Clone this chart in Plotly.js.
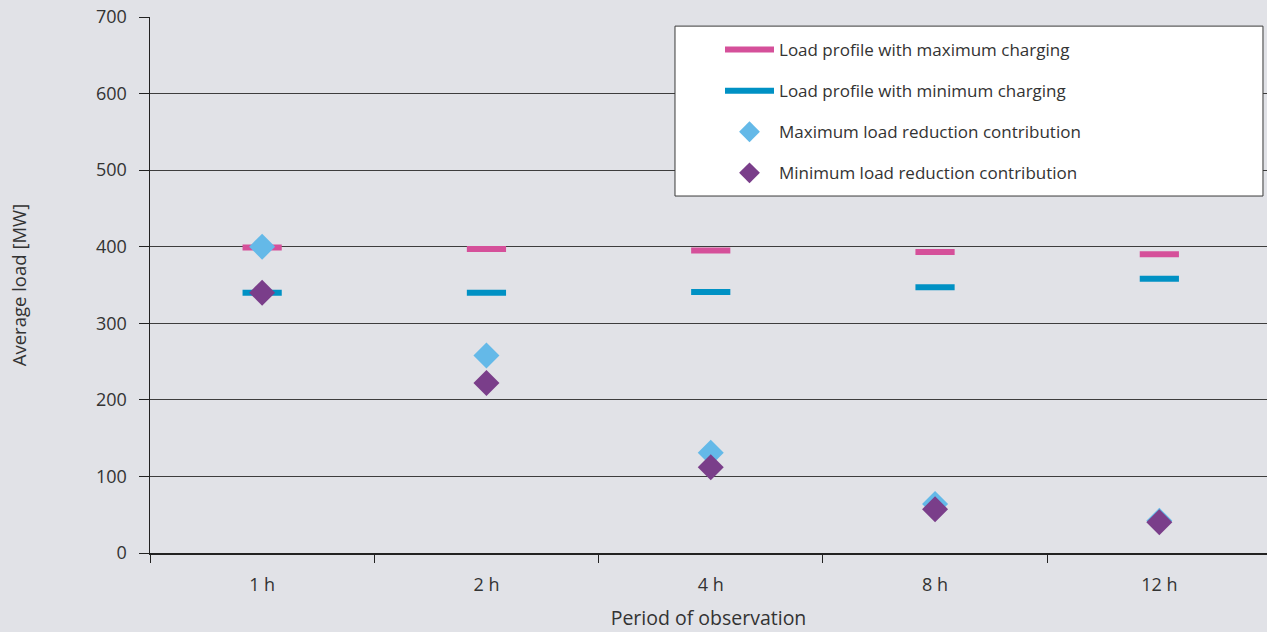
<!DOCTYPE html>
<html>
<head>
<meta charset="utf-8">
<script src="https://cdn.plot.ly/plotly-3.0.1.min.js"></script>
<style>html,body{margin:0;padding:0;background:#e1e2e7;}#chart{width:1267px;height:632px;}</style>
</head>
<body>
<div id="chart"></div>
<script>
const categories = ['1 h', '2 h', '4 h', '8 h', '12 h'];
const maxCharging = [399, 397, 395, 393, 390];
const minCharging = [340, 340, 341, 347, 358];
const maxReduction = [400, 258, 131, 64, 42];
const minReduction = [340, 222, 112, 57, 40];
const yTicks = [0, 100, 200, 300, 400, 500, 600, 700];

const names = [
  'Load profile with maximum charging',
  'Load profile with minimum charging',
  'Maximum load reduction contribution',
  'Minimum load reduction contribution'
];
const colors = ['#d5509a', '#0091c4', '#64b9e8', '#7a3e8a'];

const traces = [
  // legend entries for the bar-like markers
  {x: [null], y: [null], type: 'scatter', mode: 'lines', name: names[0], legendgroup: 'a',
   line: {color: colors[0], width: 6}, hoverinfo: 'skip'},
  {x: [null], y: [null], type: 'scatter', mode: 'lines', name: names[1], legendgroup: 'b',
   line: {color: colors[1], width: 6}, hoverinfo: 'skip'},
  {x: categories, y: maxCharging, type: 'scatter', mode: 'markers', showlegend: false, legendgroup: 'a',
   marker: {symbol: 'line-ew', size: 28, line: {color: colors[0], width: 6}}},
  {x: categories, y: minCharging, type: 'scatter', mode: 'markers', showlegend: false, legendgroup: 'b',
   marker: {symbol: 'line-ew', size: 28, line: {color: colors[1], width: 6}}},
  {x: categories, y: maxReduction, type: 'scatter', mode: 'markers', name: names[2], legendgroup: 'c',
   marker: {symbol: 'diamond', size: 20, color: colors[2], line: {width: 0}}},
  {x: categories, y: minReduction, type: 'scatter', mode: 'markers', name: names[3], legendgroup: 'd',
   marker: {symbol: 'diamond', size: 20, color: colors[3], line: {width: 0}}}
];

const font = {family: '"Open Sans", sans-serif', color: '#333333'};

const layout = {
  width: 1267, height: 632,
  paper_bgcolor: '#e1e2e7', plot_bgcolor: '#e1e2e7',
  margin: {l: 150, r: 0, t: 17, b: 79},
  font: Object.assign({size: 18}, font),
  showlegend: true,
  legend: {
    x: 0.5103, y: 0.972, xanchor: 'left', yanchor: 'top',
    bgcolor: 'rgba(0,0,0,0)', borderwidth: 0,
    traceorder: 'grouped', tracegroupgap: 16, itemwidth: 49,
    font: Object.assign({size: 17}, font)
  },
  shapes: [{
    type: 'rect', xref: 'paper', yref: 'paper',
    x0: 0.470, x1: 0.9964, y0: 0.666, y1: 0.983,
    fillcolor: '#ffffff', line: {color: '#3a3a3a', width: 1}, layer: 'above'
  }],
  xaxis: {
    type: 'category', range: [-0.5, 4.48],
    showgrid: false, zeroline: false,
    showline: true, linecolor: '#222222', linewidth: 1.5,
    ticks: 'outside', tickson: 'boundaries', ticklen: 8, tickcolor: '#222222',
    ticklabelstandoff: 15,
    tickfont: Object.assign({size: 18}, font),
    title: {text: 'Period of observation', font: Object.assign({size: 19.5}, font), standoff: 16},
    automargin: false
  },
  yaxis: {
    range: [0, 700], tickvals: yTicks, ticktext: yTicks.map(String),
    showgrid: true, gridcolor: '#3d3d3d', gridwidth: 1,
    zeroline: false,
    showline: true, linecolor: '#222222', linewidth: 1.5,
    ticks: 'outside', ticklen: 10, tickcolor: '#222222',
    ticklabelstandoff: 8,
    tickfont: Object.assign({size: 18}, font),
    title: {text: 'Average load [MW]', font: Object.assign({size: 18.5}, font), standoff: 64},
    automargin: false
  }
};

Plotly.newPlot('chart', traces, layout, {displayModeBar: false, staticPlot: true});
</script>
</body>
</html>
